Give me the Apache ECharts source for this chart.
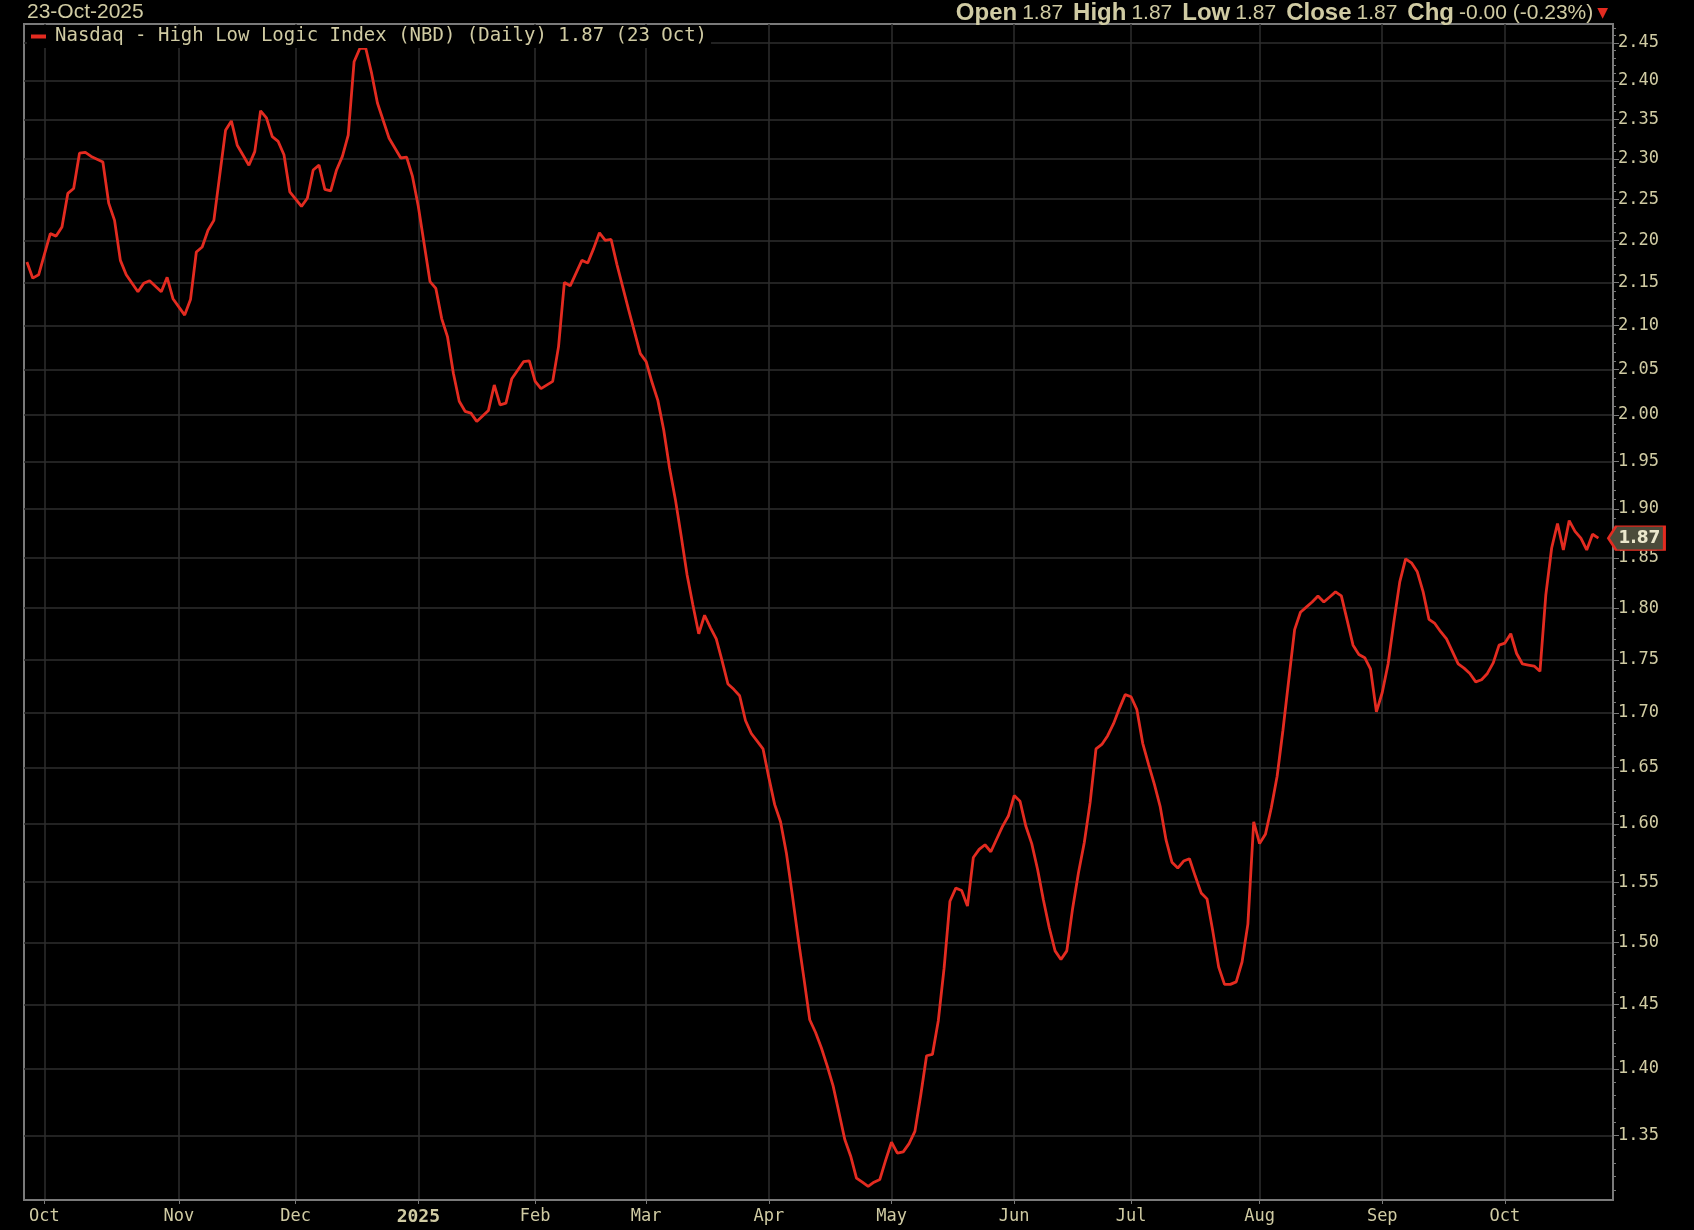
<!DOCTYPE html>
<html>
<head>
<meta charset="utf-8">
<script src="https://cdn.jsdelivr.net/npm/echarts@6/dist/echarts.min.js"></script>
<style>
html,body{margin:0;padding:0;background:#000;}
#chart{width:1694px;height:1230px;}
</style>
</head>
<body>
<div id="chart"></div>
<script>
// ---- Data ----
const holidays = ['2024-11-28','2024-12-25','2025-01-01','2025-01-09','2025-01-20','2025-02-17',
  '2025-04-18','2025-05-26','2025-06-19','2025-07-04','2025-09-01'];
const firstSession = '2024-09-26';
const lastSession = '2025-10-27';

const dates = [
'2024-09-26','2024-09-27','2024-09-30','2024-10-02','2024-10-03','2024-10-04','2024-10-07','2024-10-08',
'2024-10-09','2024-10-10','2024-10-11','2024-10-15','2024-10-16','2024-10-17','2024-10-18','2024-10-21',
'2024-10-23','2024-10-24','2024-10-25','2024-10-29','2024-10-30','2024-10-31',
'2024-11-04','2024-11-05','2024-11-06','2024-11-07','2024-11-08','2024-11-11','2024-11-13','2024-11-14',
'2024-11-15','2024-11-19','2024-11-20','2024-11-21','2024-11-22','2024-11-25','2024-11-26','2024-11-27','2024-11-29',
'2024-12-03','2024-12-04','2024-12-05','2024-12-06','2024-12-09','2024-12-10','2024-12-11','2024-12-12',
'2024-12-13','2024-12-16','2024-12-17','2024-12-18','2024-12-19','2024-12-20','2024-12-24','2024-12-27',
'2024-12-30','2024-12-31',
'2025-01-02','2025-01-06','2025-01-07','2025-01-08','2025-01-10','2025-01-13','2025-01-14','2025-01-15',
'2025-01-16','2025-01-17','2025-01-22','2025-01-23','2025-01-24','2025-01-27','2025-01-28','2025-01-30','2025-01-31',
'2025-02-03','2025-02-04','2025-02-06','2025-02-07','2025-02-10','2025-02-11','2025-02-13','2025-02-14',
'2025-02-18','2025-02-19','2025-02-20','2025-02-21','2025-02-24','2025-02-26','2025-02-28',
'2025-03-03','2025-03-04','2025-03-05','2025-03-06','2025-03-07','2025-03-10','2025-03-11','2025-03-12',
'2025-03-13','2025-03-14','2025-03-17','2025-03-18','2025-03-19','2025-03-20','2025-03-21','2025-03-24',
'2025-03-25','2025-03-26','2025-03-27','2025-03-28','2025-03-31',
'2025-04-01','2025-04-02','2025-04-03','2025-04-04','2025-04-07','2025-04-08','2025-04-09','2025-04-10',
'2025-04-11','2025-04-14','2025-04-15','2025-04-16','2025-04-17','2025-04-21','2025-04-22','2025-04-23',
'2025-04-24','2025-04-25','2025-04-28','2025-04-29','2025-04-30',
'2025-05-01','2025-05-02','2025-05-05','2025-05-06','2025-05-07','2025-05-08','2025-05-09','2025-05-12',
'2025-05-13','2025-05-14','2025-05-15','2025-05-16','2025-05-19','2025-05-20','2025-05-21','2025-05-22',
'2025-05-23','2025-05-27','2025-05-28','2025-05-29','2025-05-30',
'2025-06-02','2025-06-03','2025-06-04','2025-06-05','2025-06-06','2025-06-09','2025-06-10','2025-06-11',
'2025-06-12','2025-06-13','2025-06-16','2025-06-17','2025-06-18','2025-06-20','2025-06-23','2025-06-24',
'2025-06-25','2025-06-26','2025-06-27','2025-06-30',
'2025-07-01','2025-07-02','2025-07-03','2025-07-07','2025-07-08','2025-07-09','2025-07-10','2025-07-11',
'2025-07-14','2025-07-15','2025-07-16','2025-07-17','2025-07-18','2025-07-21','2025-07-22','2025-07-23',
'2025-07-24','2025-07-25','2025-07-28','2025-07-29','2025-07-30','2025-07-31',
'2025-08-01','2025-08-04','2025-08-05','2025-08-06','2025-08-07','2025-08-08','2025-08-11','2025-08-12',
'2025-08-13','2025-08-14','2025-08-15','2025-08-18','2025-08-19','2025-08-20','2025-08-21','2025-08-22',
'2025-08-25','2025-08-26','2025-08-27','2025-08-28','2025-08-29',
'2025-09-02','2025-09-03','2025-09-04','2025-09-05','2025-09-08','2025-09-09','2025-09-10','2025-09-11',
'2025-09-12','2025-09-15','2025-09-16','2025-09-17','2025-09-18','2025-09-19','2025-09-22','2025-09-23',
'2025-09-24','2025-09-25','2025-09-26','2025-09-29','2025-09-30',
'2025-10-01','2025-10-02','2025-10-03','2025-10-06','2025-10-07','2025-10-08','2025-10-09','2025-10-10',
'2025-10-13','2025-10-14','2025-10-15','2025-10-16','2025-10-17','2025-10-20','2025-10-21','2025-10-22','2025-10-23'
];

const values = [
2.174,2.155,2.159,2.208,2.205,2.216,2.257,2.263,
2.307,2.308,2.303,2.296,2.245,2.224,2.176,2.159,
2.139,2.149,2.152,2.139,2.156,2.131,
2.112,2.130,2.186,2.192,2.212,2.224,2.336,2.348,
2.317,2.292,2.309,2.361,2.352,2.328,2.322,2.305,2.259,
2.241,2.251,2.286,2.292,2.262,2.260,2.286,2.303,
2.330,2.425,2.443,2.443,2.410,2.371,2.326,2.301,
2.302,2.278,
2.241,2.151,2.143,2.108,2.087,2.046,2.015,2.004,
2.002,1.993,2.005,2.033,2.011,2.013,2.040,2.059,2.060,
2.037,2.029,2.037,2.076,2.150,2.146,2.176,2.173,
2.190,2.209,2.200,2.201,2.171,2.118,2.068,
2.059,2.036,2.016,1.984,1.943,1.910,1.872,1.833,
1.803,1.775,1.793,1.781,1.770,1.749,1.727,1.722,
1.716,1.693,1.681,1.674,1.667,
1.641,1.617,1.602,1.575,1.540,1.504,1.471,1.438,
1.428,1.416,1.402,1.387,1.367,1.347,1.335,1.319,
1.316,1.313,1.316,1.318,1.332,
1.345,1.337,1.338,1.344,1.353,1.380,1.410,1.411,
1.437,1.479,1.534,1.545,1.543,1.530,1.571,1.578,
1.582,1.576,1.587,1.598,1.607,
1.625,1.620,1.598,1.583,1.561,1.535,1.512,1.493,
1.486,1.493,1.528,1.558,1.584,1.619,1.667,1.671,
1.679,1.690,1.704,1.717,
1.715,1.703,1.672,1.653,1.635,1.615,1.586,1.567,
1.562,1.568,1.570,1.555,1.541,1.536,1.509,1.480,
1.466,1.466,1.468,1.484,1.515,1.602,
1.583,1.591,1.614,1.642,1.684,1.731,1.779,1.796,
1.801,1.806,1.812,1.806,1.811,1.816,1.812,1.788,
1.764,1.755,1.752,1.741,1.701,
1.719,1.746,1.787,1.826,1.849,1.845,1.836,1.816,
1.789,1.785,1.777,1.770,1.758,1.746,1.742,1.737,
1.729,1.731,1.737,1.747,1.764,
1.766,1.775,1.756,1.746,1.745,1.744,1.739,1.813,
1.860,1.885,1.858,1.888,1.877,1.870,1.858,1.874,1.870
];

const yTickLabels = [1.35,1.40,1.45,1.50,1.55,1.60,1.65,1.70,1.75,1.80,1.85,1.90,1.95,2.00,2.05,2.10,2.15,2.20,2.25,2.30,2.35,2.40,2.45];
const monthNames = ['Jan','Feb','Mar','Apr','May','Jun','Jul','Aug','Sep','Oct','Nov','Dec'];
const seriesName = 'Nasdaq - High Low Logic Index (NBD) (Daily) 1.87 (23 Oct)';

// ---- Trading-day category axis ----
function tradingSessions(start, end) {
  const out = [];
  let t = Date.parse(start + 'T00:00:00Z');
  const te = Date.parse(end + 'T00:00:00Z');
  while (t <= te) {
    const d = new Date(t);
    const wd = d.getUTCDay();
    const s = d.toISOString().slice(0, 10);
    if (wd !== 0 && wd !== 6 && holidays.indexOf(s) < 0) out.push(s);
    t += 86400000;
  }
  return out;
}
const sessions = tradingSessions(firstSession, lastSession);
const monthStart = {};
sessions.forEach((s, i) => {
  if (i > 0 && s.slice(0, 7) !== sessions[i - 1].slice(0, 7)) monthStart[i] = true;
});
const isMonthStart = (i) => !!monthStart[i];

const yMinorTicks = [];
for (let k = 131; k <= 247; k++) yMinorTicks.push(k / 100);

const lineData = dates.map((d, i) => [d, values[i]]);
const lastValue = values[values.length - 1];
const lastDate = dates[dates.length - 1];

const khaki = '#d0cba3';
const frame = '#7a7a7a';
const gridCol = '#2e2e2e';
const red = '#e32b20';
const yMin = 1.3033, yMax = 2.4755;
const narrow = "'Liberation Sans Narrow','Liberation Sans',sans-serif";
const mono = "'DejaVu Sans Mono',monospace";

const chart = echarts.init(document.getElementById('chart'), null, {renderer: 'canvas'});
chart.setOption({
  backgroundColor: '#000',
  animation: false,
  title: [{
    text: '23-Oct-2025',
    left: 22, top: -3,
    textStyle: {color: khaki, fontFamily: narrow, fontSize: 21, fontWeight: 'normal'}
  }, {
    text: '{b|Open} {v|1.87}  {b|High} {v|1.87}  {b|Low} {v|1.87}  {b|Close} {v|1.87}  {b|Chg} {v|-0.00 (-0.23%)}{r|▼}',
    right: 81, top: -4,
    textStyle: {
      rich: {
        b: {color: khaki, fontFamily: narrow, fontSize: 24, fontWeight: 'bold'},
        v: {color: khaki, fontFamily: narrow, fontSize: 21, fontWeight: 'normal'},
        r: {color: red, fontFamily: 'DejaVu Sans', fontSize: 14, padding: [0, 0, 0, 4]}
      }
    }
  }],
  legend: {
    left: 27, top: 25, padding: [2, 4, 2, 4],
    backgroundColor: '#000',
    icon: 'rect', itemWidth: 15, itemHeight: 4,
    textStyle: {color: khaki, fontFamily: mono, fontSize: 19, padding: [0, 0, 0, 4]},
    data: [seriesName]
  },
  grid: {
    left: 24, right: 81, top: 24, bottom: 30,
    show: true, borderColor: frame, borderWidth: 2, backgroundColor: '#000'
  },
  xAxis: {
    type: 'category',
    data: sessions,
    boundaryGap: true,
    axisLine: {show: true, lineStyle: {color: frame, width: 2}},
    axisTick: {show: true, interval: isMonthStart, alignWithLabel: true, length: 4, lineStyle: {color: frame}},
    splitLine: {show: true, interval: isMonthStart, alignWithLabel: true, lineStyle: {color: gridCol, width: 1.5}},
    axisLabel: {
      interval: isMonthStart,
      margin: 8,
      color: khaki,
      fontFamily: mono,
      fontSize: 17,
      formatter: function (v) {
        const m = parseInt(v.slice(5, 7), 10) - 1;
        return m === 0 ? '{y|' + v.slice(0, 4) + '}' : monthNames[m];
      },
      rich: {y: {color: khaki, fontFamily: mono, fontSize: 18, fontWeight: 'bold'}}
    }
  },
  yAxis: [{
    type: 'log', logBase: 10, position: 'right',
    min: yMin, max: yMax,
    axisLine: {show: true, lineStyle: {color: frame, width: 2}},
    axisTick: {show: true, customValues: yTickLabels, length: 6, lineStyle: {color: frame}},
    splitLine: {show: true, lineStyle: {color: gridCol, width: 1.5}},
    axisLabel: {
      customValues: yTickLabels, margin: 5,
      color: khaki, fontFamily: mono, fontSize: 17,
      formatter: (v) => Number(v).toFixed(2)
    }
  }, {
    type: 'log', logBase: 10, position: 'right',
    min: yMin, max: yMax,
    axisLine: {show: false},
    axisTick: {show: true, customValues: yMinorTicks, length: 3, lineStyle: {color: frame}},
    splitLine: {show: false},
    axisLabel: {show: false}
  }],
  series: [{
    name: seriesName,
    type: 'line',
    data: lineData,
    yAxisIndex: 0,
    showSymbol: false,
    symbol: 'none',
    lineStyle: {color: red, width: 2.8},
    itemStyle: {color: red},
    markPoint: {
      symbol: 'path://M0,11L8,0H58V22H8Z',
      symbolSize: [56, 24],
      symbolOffset: [38, 0],
      itemStyle: {color: '#4b4b3a', borderColor: red, borderWidth: 2},
      label: {
        show: true, formatter: lastValue.toFixed(2), offset: [3, 0],
        color: '#ebe7cc', fontFamily: 'DejaVu Sans', fontWeight: 'bold', fontSize: 17
      },
      data: [{coord: [lastDate, lastValue]}]
    }
  }]
});
</script>
</body>
</html>
